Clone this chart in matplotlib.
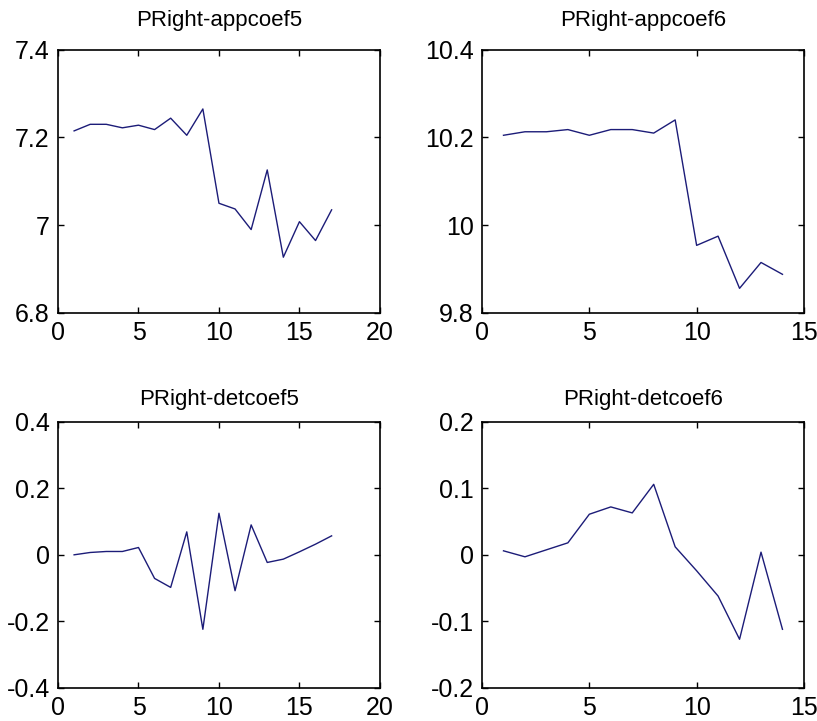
import matplotlib.pyplot as plt
from matplotlib.ticker import FormatStrFormatter

plt.rcParams['font.family'] = ['Liberation Sans', 'DejaVu Sans']

app5 = [7.215, 7.23, 7.23, 7.222, 7.228, 7.218, 7.244, 7.205, 7.265,
        7.05, 7.037, 6.99, 7.126, 6.927, 7.008, 6.965, 7.035]
app6 = [10.205, 10.213, 10.213, 10.218, 10.205, 10.218, 10.218, 10.21, 10.24,
        9.954, 9.975, 9.856, 9.915, 9.888]
det5 = [0.0, 0.007, 0.01, 0.01, 0.022, -0.071, -0.098, 0.069, -0.224,
        0.125, -0.108, 0.09, -0.023, -0.013, 0.009, 0.032, 0.057]
det6 = [0.006, -0.003, 0.0075, 0.018, 0.061, 0.072, 0.063, 0.106, 0.012,
        -0.024, -0.062, -0.127, 0.004, -0.112]

titles = ['PRight-appcoef5', 'PRight-appcoef6', 'PRight-detcoef5', 'PRight-detcoef6']
series = [app5, app6, det5, det6]
xlims = [(0, 20), (0, 15), (0, 20), (0, 15)]
ylims = [(6.8, 7.4), (9.8, 10.4), (-0.4, 0.4), (-0.2, 0.2)]
yticks = [[6.8, 7.0, 7.2, 7.4], [9.8, 10.0, 10.2, 10.4],
          [-0.4, -0.2, 0, 0.2, 0.4], [-0.2, -0.1, 0, 0.1, 0.2]]
xticks = [[0, 5, 10, 15, 20], [0, 5, 10, 15], [0, 5, 10, 15, 20], [0, 5, 10, 15]]

fig = plt.figure(figsize=(8.17, 7.21), dpi=100)
pos = [[0.071, 0.566, 0.394, 0.365], [0.590, 0.566, 0.394, 0.365],
       [0.071, 0.046, 0.394, 0.369], [0.590, 0.046, 0.394, 0.369]]
tpad = [17, 17, 12, 12]

for i in range(4):
    ax = fig.add_axes(pos[i])
    y = series[i]
    x = list(range(1, len(y) + 1))
    ax.plot(x, y, color='#1c1c78', lw=1.0)
    ax.set_xlim(*xlims[i])
    ax.set_ylim(*ylims[i])
    ax.set_xticks(xticks[i])
    ax.set_yticks(yticks[i])
    ax.yaxis.set_major_formatter(FormatStrFormatter('%g'))
    ax.tick_params(direction='in', top=True, right=True, length=4,
                   labelsize=18, pad=6, width=1)
    for s in ax.spines.values():
        s.set_linewidth(1.2)
    ax.set_title(titles[i], fontsize=16, pad=tpad[i])

fig.savefig('out.png', dpi=100)
